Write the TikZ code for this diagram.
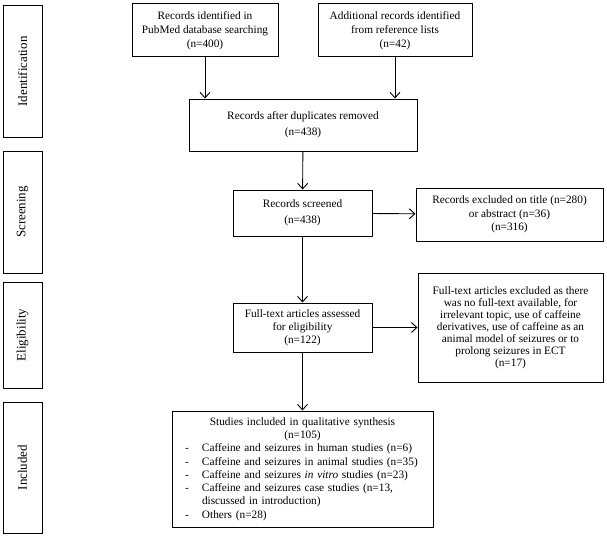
\documentclass[tikz,border=0pt]{standalone}
\usepackage{fontspec}
\setmainfont{Liberation Serif}
\usetikzlibrary{arrows.meta}
\begin{document}
\begin{tikzpicture}[x=1pt,y=-1pt]
\tikzstyle{box} = [draw,line width=1pt,align=center,inner sep=2pt,font=\fontsize{11.3}{14}\selectfont]
\tikzstyle{stage} = [draw,line width=1pt,rotate=90,minimum height=39pt,inner sep=0pt,font=\fontsize{13}{15}\selectfont]
\tikzstyle{arr} = [line width=0.9pt,-{Straight Barb[length=5.5pt,width=10pt]}]

\useasboundingbox (0,0) rectangle (607,535);

% stages on the left
\node[stage,minimum width=131pt] (ident) at (22.5,71.5) {Identification};
\node[stage,minimum width=122pt] (screen) at (22.5,212) {Screening};
\node[stage,minimum width=106pt] (elig) at (22.5,335) {Eligibility};
\node[stage,minimum width=131pt] (incl) at (22.5,467.5) {Included};

% flow
\node[box,minimum width=146pt,minimum height=53pt] (pubmed) at (205,30.5)
  {Records identified in\\PubMed database searching\\(n=400)};
\node[box,minimum width=154pt,minimum height=53pt] (reflist) at (395,30.5)
  {Additional records identified\\from reference lists\\(n=42)};
\node[box,minimum width=228pt,minimum height=52pt,font=\fontsize{11.3}{16}\selectfont] (dupl) at (303,125)
  {Records after duplicates removed\\(n=438)};
\node[box,minimum width=139pt,minimum height=46pt,font=\fontsize{11.3}{16}\selectfont] (screened) at (302.5,213)
  {Records screened\\(n=438)};
\node[box,minimum width=187pt,minimum height=53pt,font=\fontsize{11.3}{13.5}\selectfont] (excl) at (509.5,214.5)
  {Records excluded on title (n=280)\\or abstract (n=36)\\(n=316)};
\node[box,minimum width=139pt,minimum height=49pt,font=\fontsize{11.3}{13}\selectfont] (fulltext) at (302.5,327.5)
  {Full-text articles assessed\\for eligibility\\(n=122)};
\node[box,minimum width=185pt,minimum height=109pt,font=\fontsize{11.3}{12}\selectfont] (ftexcl) at (510.5,327.5)
  {Full-text articles excluded as there\\was no full-text available, for\\irrelevant topic, use of caffeine\\derivatives, use of caffeine as an\\animal model of seizures or to\\prolong seizures in ECT\\(n=17)};
\node[box,align=left,text width=250pt,inner xsep=5.5pt,minimum height=116pt,
  font=\fontsize{11.3}{13.3}\selectfont] (studies) at (302.5,469)
  {\centering Studies included in qualitative synthesis\\(n=105)\par\raggedright
  \hspace*{7.5pt}\makebox[17pt][l]{-}Caffeine and seizures in human studies (n=6)\\
  \hspace*{7.5pt}\makebox[17pt][l]{-}Caffeine and seizures in animal studies (n=35)\\
  \hspace*{7.5pt}\makebox[17pt][l]{-}Caffeine and seizures \textit{in vitro} studies (n=23)\\
  \hspace*{7.5pt}\makebox[17pt][l]{-}Caffeine and seizures case studies (n=13,\\
  \hspace*{24.5pt}discussed in introduction)\\
  \hspace*{7.5pt}\makebox[17pt][l]{-}Others (n=28)};

\draw[arr] (pubmed.south) -- (pubmed.south |- dupl.north);
\draw[arr] (reflist.south) -- (reflist.south |- dupl.north);
\draw[arr] (dupl) -- (screened);
\draw[arr] (screened) -- (excl);
\draw[arr] (screened) -- (fulltext);
\draw[arr] (fulltext) -- (ftexcl);
\draw[arr] (fulltext) -- (studies);
\end{tikzpicture}
\end{document}
